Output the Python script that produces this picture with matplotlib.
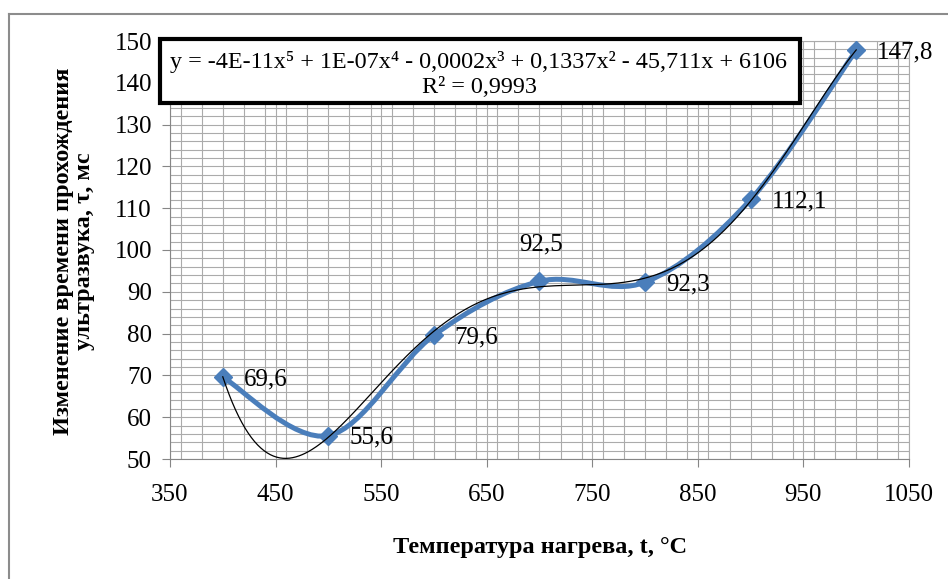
#!/usr/bin/env python3
"""Ultrasound transit time change vs heating temperature (Excel-style chart)."""

import matplotlib

matplotlib.use("Agg")
import matplotlib.pyplot as plt
import numpy as np
from matplotlib.lines import Line2D
from matplotlib.patches import PathPatch, Rectangle
from matplotlib.path import Path
from matplotlib.ticker import MultipleLocator

# data
temperature = [400, 500, 600, 700, 800, 900, 1000]
transit_time = [69.6, 55.6, 79.6, 92.5, 92.3, 112.1, 147.8]
point_labels = ["69,6", "55,6", "79,6", "92,5", "92,3", "112,1", "147,8"]
label_above = [False, False, False, True, False, False, False]

x_ticks = [350, 450, 550, 650, 750, 850, 950, 1050]
y_ticks = [50, 60, 70, 80, 90, 100, 110, 120, 130, 140, 150]

equation_text = "y = -4E-11x\u2075 + 1E-07x\u2074 - 0,0002x\u00b3 + 0,1337x\u00b2 - 45,711x + 6106"
r2_text = "R\u00b2 = 0,9993"
x_label = "Температура нагрева, t, °C"
y_label = "Изменение времени прохождения\nультразвука, τ, мс"

SERIF = ["Liberation Serif", "DejaVu Serif"]
BLUE = "#4A7EBB"
GRID = "#ABABAB"
AXIS = "#868686"

plt.rcParams.update({"font.family": SERIF, "font.size": 18})


def smooth_path(xs, ys):
    # Excel-like smoothed line: cubic Bezier with Catmull-Rom control points
    pts = np.column_stack([xs, ys]).astype(float)
    n = len(pts)
    verts = [pts[0]]
    codes = [Path.MOVETO]
    for i in range(n - 1):
        p0 = pts[i - 1] if i > 0 else pts[i]
        p1 = pts[i]
        p2 = pts[i + 1]
        p3 = pts[i + 2] if i + 2 < n else pts[i + 1]
        c1 = p1 + (p2 - p0) / 6.0
        c2 = p2 - (p3 - p1) / 6.0
        verts += [c1, c2, p2]
        codes += [Path.CURVE4] * 3
    return Path(verts, codes)


W, H = 948, 579
fig = plt.figure(figsize=(W / 100, H / 100), dpi=100)
ax = fig.add_axes([170 / W, 1 - 459 / H, (909 - 170) / W, (459 - 41) / H])

ax.set_xlim(350, 1050)
ax.set_ylim(50, 150)
ax.xaxis.set_minor_locator(MultipleLocator(20))
ax.yaxis.set_minor_locator(MultipleLocator(2))
ax.set_xticks(x_ticks)
ax.set_yticks(y_ticks)
ax.grid(which="both", color=GRID, linewidth=0.8)
ax.set_axisbelow(True)
ax.tick_params(which="major", direction="out", length=6, color=AXIS, labelsize=18)
ax.tick_params(axis="x", pad=12)
ax.tick_params(axis="y", pad=7)
ax.tick_params(which="minor", length=0)
for side in ("top", "right"):
    ax.spines[side].set_color(GRID)
for side in ("left", "bottom"):
    ax.spines[side].set_color(AXIS)

# smoothed data series
ax.add_patch(
    PathPatch(
        smooth_path(temperature, transit_time),
        facecolor="none",
        edgecolor=BLUE,
        linewidth=3.6,
        capstyle="round",
        zorder=3,
    )
)
ax.plot(temperature, transit_time, linestyle="none", marker="D", markersize=9.5,
        color=BLUE, zorder=4)

# polynomial trendline (degree 5)
coef = np.polyfit(temperature, transit_time, 5)
xt = np.linspace(min(temperature), max(temperature), 400)
ax.plot(xt, np.polyval(coef, xt), color="black", linewidth=0.9, zorder=5, clip_on=False)

for x, y, lab, above in zip(temperature, transit_time, point_labels, label_above):
    if above:
        ax.annotate(lab, (x, y), xytext=(1, 22), textcoords="offset points",
                    ha="center", va="baseline", fontsize=18, zorder=6,
                    annotation_clip=False)
    else:
        ax.annotate(lab, (x, y), xytext=(15, -6), textcoords="offset points",
                    ha="left", va="baseline", fontsize=18, zorder=6,
                    annotation_clip=False)

# trendline equation box
fig.add_artist(Rectangle((160 / W, 1 - 103 / H), 640 / W, 64 / H,
                         transform=fig.transFigure, facecolor="white",
                         edgecolor="black", linewidth=3.0, zorder=10))
fig.text(479 / W, 1 - 62 / H, equation_text, ha="center", va="center",
         fontsize=17.4, family=SERIF, zorder=11)
fig.text(479 / W, 1 - 88 / H, r2_text, ha="center", va="center",
         fontsize=17.4, family=SERIF, zorder=11)

# axis titles
fig.text(540 / W, 1 - 547 / H, x_label, ha="center", va="center",
         fontsize=17.5, fontweight="bold")
fig.text(74 / W, 1 - 251 / H, y_label, ha="center", va="center",
         rotation=90, fontsize=17.5, fontweight="bold", linespacing=0.95)

# outer chart border
fig.add_artist(Line2D([9 / W, 9 / W], [0, 1 - 14 / H], transform=fig.transFigure,
                      color="#8C8C8C", linewidth=1.5))
fig.add_artist(Line2D([9 / W, 1], [1 - 14 / H, 1 - 14 / H], transform=fig.transFigure,
                      color="#8C8C8C", linewidth=1.5))

fig.savefig("out.png", dpi=100, facecolor="white")
